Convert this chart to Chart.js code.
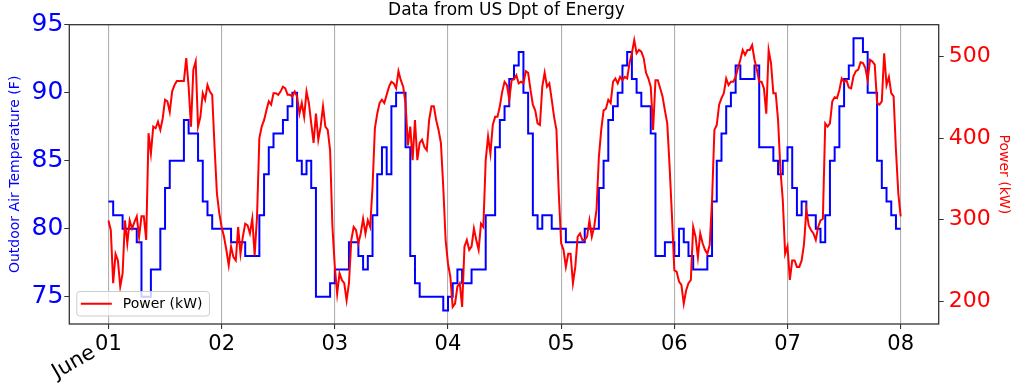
<!DOCTYPE html>
<html>
<head>
<meta charset="utf-8">
<script src="https://cdn.jsdelivr.net/npm/chart.js@4.4.1/dist/chart.umd.min.js"></script>
<style>
  html, body { margin: 0; padding: 0; background: #fff; }
  #wrap { width: 1013px; height: 392px; }
</style>
</head>
<body>
<div id="wrap"><canvas id="chart" width="1013" height="392"></canvas></div>
<script>
// Day tick labels (June 01 .. June 08) and month marker
const dayLabels = ['01', '02', '03', '04', '05', '06', '07', '08'];
const monthLabel = 'June';
const tempTicks = [75, 80, 85, 90, 95];
const powerTicks = [200, 300, 400, 500];

// Outdoor air temperature (F), one value per hour, day by day
const temperatureF = [
    82, 81, 81, 80, 80, 80, 79, 75, 75, 77, 77, 80, 83, 85, 85, 85, 88, 87, 87, 85, 82, 81, 80, 80,
    80, 80, 79, 79, 79, 78, 78, 78, 81, 84, 86, 87, 87, 88, 89, 90, 85, 84, 85, 83, 75, 75, 75, 76,
    77, 77, 77, 79, 79, 78, 77, 78, 81, 84, 86, 84, 89, 90, 90, 86, 78, 76, 75, 75, 75, 75, 75, 74,
    75, 76, 77, 76, 76, 77, 77, 77, 81, 81, 86, 88, 89, 91, 92, 93, 90, 87, 81, 80, 81, 81, 80, 80,
    80, 79, 79, 79, 79, 80, 80, 80, 83, 85, 88, 89, 90, 92, 93, 91, 90, 89, 89, 87, 78, 78, 79, 79,
    78, 80, 79, 78, 77, 77, 77, 78, 82, 85, 87, 89, 90, 92, 91, 91, 91, 92, 86, 86, 86, 85, 84, 85,
    86, 83, 81, 82, 81, 81, 80, 79, 81, 85, 86, 89, 91, 92, 94, 94, 93, 90, 90, 85, 83, 82, 81, 80,
    80
];

// Building power (kW), one value per half hour, day by day
const powerKW = [
    299, 287, 222, 258, 250, 218, 234, 299, 271, 299, 289, 297, 304, 279, 304, 304, 275, 406, 381, 414, 412, 420, 410, 424,
    447, 445, 432, 457, 465, 470, 470, 470, 470, 498, 463, 414, 484, 494, 414, 426, 455, 447, 465, 457, 453, 389, 332, 308,
    291, 279, 263, 244, 267, 254, 250, 291, 258, 279, 295, 293, 283, 301, 256, 303, 400, 414, 422, 434, 445, 441, 455, 455,
    453, 457, 463, 461, 453, 453, 451, 457, 451, 430, 443, 426, 457, 443, 418, 394, 430, 398, 414, 439, 414, 410, 385, 291,
    242, 209, 234, 226, 222, 201, 222, 275, 291, 287, 271, 283, 301, 283, 299, 291, 340, 412, 430, 443, 447, 443, 453, 463,
    469, 467, 461, 482, 471, 463, 443, 391, 414, 373, 422, 373, 394, 398, 389, 385, 422, 439, 439, 422, 410, 394, 340, 275,
    246, 230, 193, 197, 218, 222, 193, 267, 275, 263, 267, 289, 275, 263, 295, 291, 373, 402, 381, 416, 426, 426, 439, 457,
    469, 465, 447, 471, 472, 477, 467, 469, 467, 482, 480, 459, 441, 434, 418, 416, 463, 480, 463, 467, 447, 426, 410, 332,
    271, 263, 242, 258, 258, 222, 242, 279, 283, 275, 275, 279, 299, 279, 291, 312, 377, 410, 434, 436, 447, 443, 469, 473,
    467, 475, 471, 475, 473, 492, 504, 520, 504, 508, 506, 498, 480, 473, 463, 410, 471, 471, 461, 451, 434, 418, 365, 304,
    238, 236, 224, 220, 197, 213, 222, 226, 291, 279, 254, 283, 271, 263, 258, 269, 324, 410, 416, 441, 449, 455, 473, 465,
    469, 469, 475, 486, 496, 508, 502, 508, 508, 514, 496, 484, 469, 469, 461, 430, 508, 492, 455, 455, 422, 361, 324, 258,
    267, 226, 250, 250, 242, 242, 250, 270, 312, 293, 287, 283, 275, 291, 299, 301, 418, 414, 418, 445, 450, 449, 459, 473,
    469, 471, 462, 461, 476, 482, 484, 493, 492, 486, 471, 496, 494, 490, 443, 441, 445, 504, 465, 475, 455, 451, 385, 332,
    304
];

const tempPoints = temperatureF.map((v, i) => ({ x: i / 24, y: v }));
const powerPoints = powerKW.map((v, i) => ({ x: i / 48, y: v }));

Chart.defaults.font.family = "'DejaVu Sans', sans-serif";
Chart.defaults.color = '#000';

// Axes frame, inside legend and rotated month label
const framePlugin = {
    id: 'framePlugin',
    afterDraw(chart) {
        const { ctx, chartArea: a } = chart;
        ctx.save();
        ctx.strokeStyle = '#333';
        ctx.lineWidth = 1.3;
        ctx.strokeRect(a.left, a.top, a.right - a.left, a.bottom - a.top);

        // legend box, bottom left of the plot
        const ds = chart.data.datasets.find(d => d.inLegend);
        ctx.font = '14px "DejaVu Sans"';
        const textW = ctx.measureText(ds.label).width;
        const bx = a.left + 7.5, bh = 24.5, by = a.bottom - 8 - bh;
        const bw = 46 + textW + 7;
        ctx.beginPath();
        ctx.roundRect(bx, by, bw, bh, 3);
        ctx.fillStyle = 'rgba(255,255,255,0.8)';
        ctx.fill();
        ctx.strokeStyle = '#cccccc';
        ctx.lineWidth = 1;
        ctx.stroke();
        ctx.beginPath();
        ctx.moveTo(bx + 4, by + bh / 2);
        ctx.lineTo(bx + 35, by + bh / 2);
        ctx.strokeStyle = ds.borderColor;
        ctx.lineWidth = 2;
        ctx.stroke();
        ctx.fillStyle = '#000';
        ctx.textBaseline = 'middle';
        ctx.fillText(ds.label, bx + 46, by + bh / 2 + 0.5);

        // month label under the first day
        const x0 = chart.scales.x.getPixelForValue(0);
        ctx.translate(x0 - 12, 356);
        ctx.rotate(-Math.PI / 6);
        ctx.font = '21px "DejaVu Sans"';
        ctx.textAlign = 'right';
        ctx.textBaseline = 'alphabetic';
        ctx.fillText(monthLabel, 0, 0);
        ctx.restore();
    }
};

new Chart(document.getElementById('chart'), {
    type: 'line',
    data: {
        datasets: [
            {
                label: 'Power (kW)',
                inLegend: true,
                data: powerPoints,
                yAxisID: 'yPower',
                borderColor: '#ff0000',
                borderWidth: 2,
                pointRadius: 0,
                tension: 0,
                order: 1
            },
            {
                label: 'Outdoor Air Temperature (F)',
                data: tempPoints,
                yAxisID: 'yTemp',
                borderColor: '#0000ff',
                borderWidth: 2,
                pointRadius: 0,
                stepped: 'before',
                order: 2
            }
        ]
    },
    options: {
        responsive: false,
        animation: false,
        events: [],
        devicePixelRatio: 1,
        layout: { padding: 0 },
        plugins: {
            legend: { display: false },
            tooltip: { enabled: false },
            title: {
                display: true,
                text: 'Data from US Dpt of Energy',
                color: '#000',
                font: { size: 17, weight: 'normal' },
                padding: { top: 0, bottom: 4.3 }
            }
        },
        scales: {
            x: {
                type: 'linear',
                min: -0.346,
                max: 7.336,
                afterBuildTicks: s => { s.ticks = dayLabels.map((_, i) => ({ value: i })); },
                afterFit: s => { s.height = 68; },
                ticks: {
                    callback: (v, i) => dayLabels[i],
                    color: '#000',
                    font: { size: 21 },
                    padding: 3,
                    maxRotation: 0,
                    autoSkip: false
                },
                grid: { color: '#b0b0b0', lineWidth: 1.1, tickColor: '#333', tickLength: 5 },
                border: { display: false }
            },
            yTemp: {
                type: 'linear',
                position: 'left',
                min: 73,
                max: 95,
                afterBuildTicks: s => { s.ticks = tempTicks.map(v => ({ value: v })); },
                afterFit: s => { s.width = 69.3; },
                ticks: { color: '#0000ff', font: { size: 25 }, padding: 1 },
                grid: { drawOnChartArea: false, tickColor: '#333', tickLength: 5 },
                border: { display: false },
                title: {
                    display: true,
                    text: 'Outdoor Air Temperature (F)',
                    color: '#0000ff',
                    font: { size: 14 },
                    padding: { top: 7.3, bottom: 0 }
                }
            },
            yPower: {
                type: 'linear',
                position: 'right',
                min: 172,
                max: 539,
                afterBuildTicks: s => { s.ticks = powerTicks.map(v => ({ value: v })); },
                afterFit: s => { s.width = 74.3; },
                ticks: { color: '#ff0000', font: { size: 22 }, padding: 5 },
                grid: { drawOnChartArea: false, tickColor: '#333', tickLength: 5 },
                border: { display: false },
                title: {
                    display: true,
                    text: 'Power (kW)',
                    color: '#ff0000',
                    font: { size: 14 },
                    padding: { top: 0.6, bottom: 0 }
                }
            }
        }
    },
    plugins: [framePlugin]
});
</script>
</body>
</html>
